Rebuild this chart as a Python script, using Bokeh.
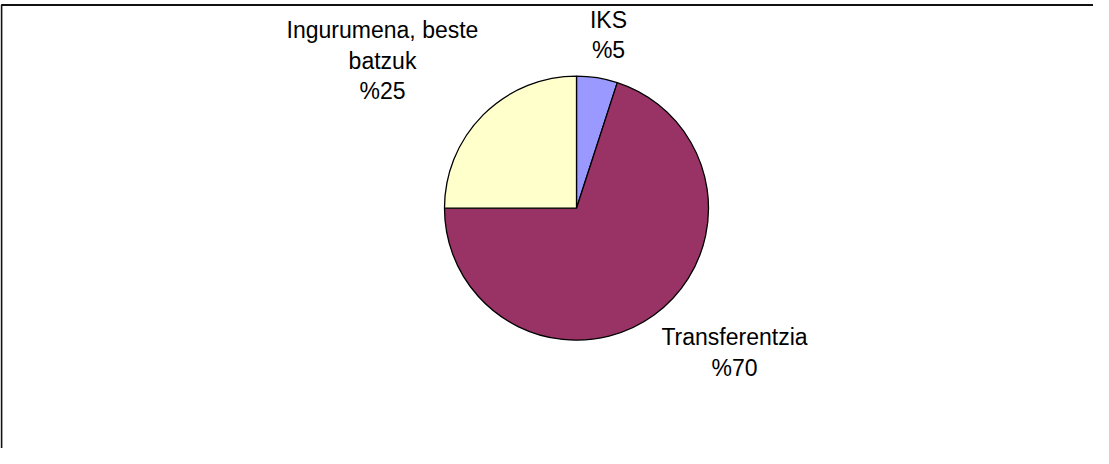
import math
from bokeh.plotting import figure
from bokeh.models import Range1d, ColumnDataSource, BoxAnnotation
from bokeh.core.properties import value
from bokeh.embed import file_html
from bokeh.resources import INLINE

# ---- data ----
categories = ["IKS", "Transferentzia", "Ingurumena, beste batzuk"]
shares = [5, 70, 25]
colors = ["#9999FF", "#993366", "#FFFFCC"]
label_lines = [["IKS"], ["Transferentzia"], ["Ingurumena, beste", "batzuk"]]

# ---- layout (page pixel positions, figure starts at page (8, 8)) ----
W, H = 1093, 448
ORIGIN_X, ORIGIN_Y = 8, 8
pie_center_page = (584, 215.7)
pie_radius = 132
label_anchor_page = [(616, 27), (742, 344.5), (390, 37.5)]  # first-line anchor
line_step = 30.7
FONT = "Liberation Sans"
FONT_SIZE = "23px"


def to_data(px, py):
    return px - ORIGIN_X, (ORIGIN_Y + H) - py


p = figure(width=W, height=H, output_backend="svg", toolbar_location=None,
           x_range=Range1d(0, W), y_range=Range1d(0, H),
           x_axis_type=None, y_axis_type=None, min_border=0)
p.grid.visible = False
p.outline_line_color = None
p.background_fill_color = "white"
p.border_fill_color = "white"

# chart-area border (only top/left fall inside the window)
top_x, top_y = to_data(8, 12.5)
border = BoxAnnotation(left=1, right=W + 100, top=top_y, bottom=-100,
                       fill_alpha=0, line_color="#111111", line_alpha=1.0,
                       line_width=1.8)
p.add_layout(border)

# wedges clockwise from 12 o'clock
cx, cy = to_data(*pie_center_page)
starts, ends = [], []
a = math.pi / 2
for s in shares:
    sweep = s / sum(shares) * 2 * math.pi
    starts.append(a)
    ends.append(a - sweep)
    a -= sweep

src = ColumnDataSource(dict(start=starts, end=ends, color=colors, cat=categories))
p.wedge(x=cx, y=cy, radius=pie_radius, radius_units="screen",
        start_angle="start", end_angle="end", direction="clock",
        fill_color="color", line_color="black", line_width=1.3, source=src)

# labels
tx, ty, tt = [], [], []
for lines, s, (ax, ay) in zip(label_lines, shares, label_anchor_page):
    all_lines = lines + ["%" + str(s)]
    for i, ln in enumerate(all_lines):
        dx, dy = to_data(ax, ay + i * line_step)
        tx.append(dx)
        ty.append(dy)
        tt.append(ln)

p.text(x=tx, y=ty, text=tt, text_align="center", text_baseline="alphabetic",
       text_font=value(FONT), text_font_size=FONT_SIZE, text_color="black")

open("out.html", "w").write(file_html(p, INLINE))
